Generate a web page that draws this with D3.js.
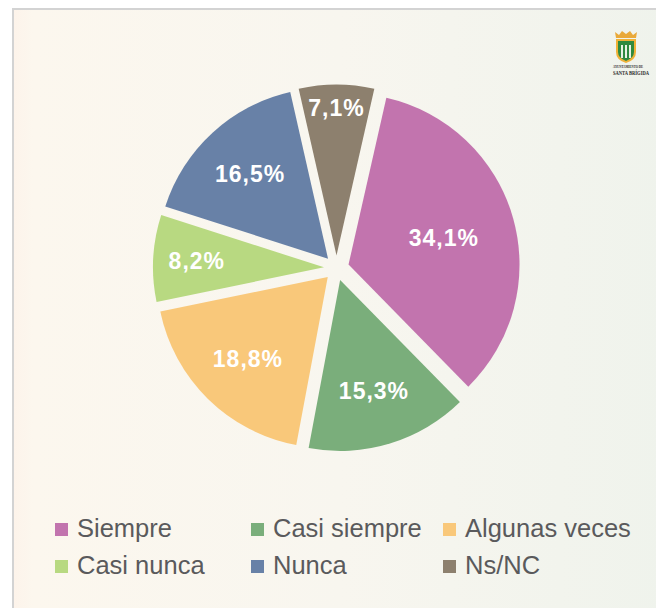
<!DOCTYPE html>
<html>
<head>
<meta charset="utf-8">
<script src="https://cdn.jsdelivr.net/npm/d3@7"></script>
<style>
  body { margin: 0; background: #ffffff; }
  svg { display: block; }
</style>
</head>
<body>
<div id="chart"></div>
<script>
const WIDTH = 656;
const HEIGHT = 608;

// data
const categories = ["Siempre", "Casi siempre", "Algunas veces", "Casi nunca", "Nunca", "Ns/NC"];
const values = [34.1, 15.3, 18.8, 8.2, 16.5, 7.1];
const labels = ["34,1%", "15,3%", "18,8%", "8,2%", "16,5%", "7,1%"];
const colors = ["#c274ae", "#7aae7b", "#f9c87a", "#b8d981", "#6881a7", "#8d806e"];

const CENTER = {x: 336.5, y: 268};
const RADIUS = 171;
const EXPLODE = 12.5;

const svg = d3.select("#chart")
  .append("svg")
    .attr("width", WIDTH)
    .attr("height", HEIGHT);

// background panel
const defs = svg.append("defs");
const grad = defs.append("linearGradient")
  .attr("id", "bg")
  .attr("x1", "0%").attr("x2", "100%")
  .attr("y1", "0%").attr("y2", "0%");
grad.append("stop").attr("offset", "0%").attr("stop-color", "#fdf3ea");
grad.append("stop").attr("offset", "3%").attr("stop-color", "#fcf7ee");
grad.append("stop").attr("offset", "50%").attr("stop-color", "#f8f6ef");
grad.append("stop").attr("offset", "100%").attr("stop-color", "#eff3ec");

svg.append("rect")
  .attr("x", 13)
  .attr("y", 9)
  .attr("width", WIDTH)
  .attr("height", HEIGHT)
  .attr("fill", "url(#bg)")
  .attr("stroke", "#d3d3d3")
  .attr("stroke-width", 2);

// pie, last slice centred at the top
const total = d3.sum(values);
const offset = values[values.length - 1] / total * Math.PI;

const pie = d3.pie()
  .sort(null)
  .value(d => d)
  .startAngle(offset)
  .endAngle(offset + 2 * Math.PI);

const arc = d3.arc().innerRadius(0).outerRadius(RADIUS);

const arcs = pie(values);

const slices = svg.append("g")
    .attr("transform", "translate(" + CENTER.x + "," + CENTER.y + ")")
  .selectAll("g.slice")
  .data(arcs)
  .enter()
  .append("g")
    .attr("class", "slice")
    .attr("transform", d => {
      const mid = (d.startAngle + d.endAngle) / 2;
      return "translate(" + (Math.sin(mid) * EXPLODE) + "," + (-Math.cos(mid) * EXPLODE) + ")";
    });

slices.append("path")
  .attr("d", arc)
  .attr("fill", (d, i) => colors[i]);

slices.append("text")
  .text((d, i) => labels[i])
  .attr("font-family", "'Liberation Sans', Arial, sans-serif")
  .attr("font-weight", "bold")
  .attr("font-size", "23px")
  .attr("letter-spacing", "1px")
  .attr("fill", "#ffffff")
  .attr("text-anchor", "middle")
  .attr("dy", "0.36em")
  .attr("transform", function(d) {
    const mid = (d.startAngle + d.endAngle) / 2;
    const half = (d.endAngle - d.startAngle) / 2;
    // roughly the area centroid of the sector
    let r = 1.06 * 2 * RADIUS * Math.sin(half) / (3 * half);
    if (half < 0.31) {
      // narrow slice: push the label out towards the rim
      const w = this.getComputedTextLength();
      const ext = Math.abs(Math.sin(mid)) * w / 2 + Math.abs(Math.cos(mid)) * 8;
      r = RADIUS - 15 - ext;
    }
    return "translate(" + (Math.sin(mid) * r) + "," + (-Math.cos(mid) * r) + ")";
  });

// legend
const LEGEND_X = [55, 251, 443];
const LEGEND_Y = [537, 574];

const legend = svg.append("g")
  .selectAll("g.item")
  .data(categories)
  .enter()
  .append("g")
    .attr("class", "item")
    .attr("transform", (d, i) =>
      "translate(" + LEGEND_X[i % 3] + "," + LEGEND_Y[Math.floor(i / 3)] + ")");

legend.append("rect")
  .attr("x", 0)
  .attr("y", -14)
  .attr("width", 13)
  .attr("height", 13)
  .attr("fill", (d, i) => colors[i]);

legend.append("text")
  .text(d => d)
  .attr("x", 22)
  .attr("y", 0)
  .attr("font-family", "'Liberation Sans', Arial, sans-serif")
  .attr("font-size", "25.5px")
  .attr("fill", "#5a5a5c");

// logo
const logo = svg.append("g").attr("transform", "translate(626,0)");
logo.append("path")
  .attr("d", "M-10,38 L-11,32 L-7,35 L-4,31 L0,34 L4,31 L7,35 L11,32 L10,38 Z")
  .attr("fill", "#e9a93a");
logo.append("path")
  .attr("d", "M-10,39 L10,39 L10,52 Q10,60 0,63 Q-10,60 -10,52 Z")
  .attr("fill", "#f0b238");
logo.append("path")
  .attr("d", "M-8,41 L8,41 L8,52 Q8,58 0,61 Q-8,58 -8,52 Z")
  .attr("fill", "#2f8a3f");
logo.selectAll("rect.bar")
  .data([-5, -1, 3])
  .enter()
  .append("rect")
    .attr("class", "bar")
    .attr("x", d => d)
    .attr("y", 45)
    .attr("width", 2)
    .attr("height", 13)
    .attr("fill", "#e8f3e4");
logo.append("text")
  .text("AYUNTAMIENTO DE")
  .attr("x", 2)
  .attr("y", 68)
  .attr("text-anchor", "middle")
  .attr("textLength", 30)
  .attr("lengthAdjust", "spacingAndGlyphs")
  .attr("font-family", "'Liberation Serif', serif")
  .attr("font-size", "4.2px")
  .attr("font-weight", "bold")
  .attr("fill", "#2a2a2a");
logo.append("text")
  .text("SANTA BRÍGIDA")
  .attr("x", 5)
  .attr("y", 74.5)
  .attr("text-anchor", "middle")
  .attr("textLength", 36)
  .attr("lengthAdjust", "spacingAndGlyphs")
  .attr("font-family", "'Liberation Serif', serif")
  .attr("font-size", "5.5px")
  .attr("font-weight", "bold")
  .attr("fill", "#2a2a2a");
</script>
</body>
</html>
